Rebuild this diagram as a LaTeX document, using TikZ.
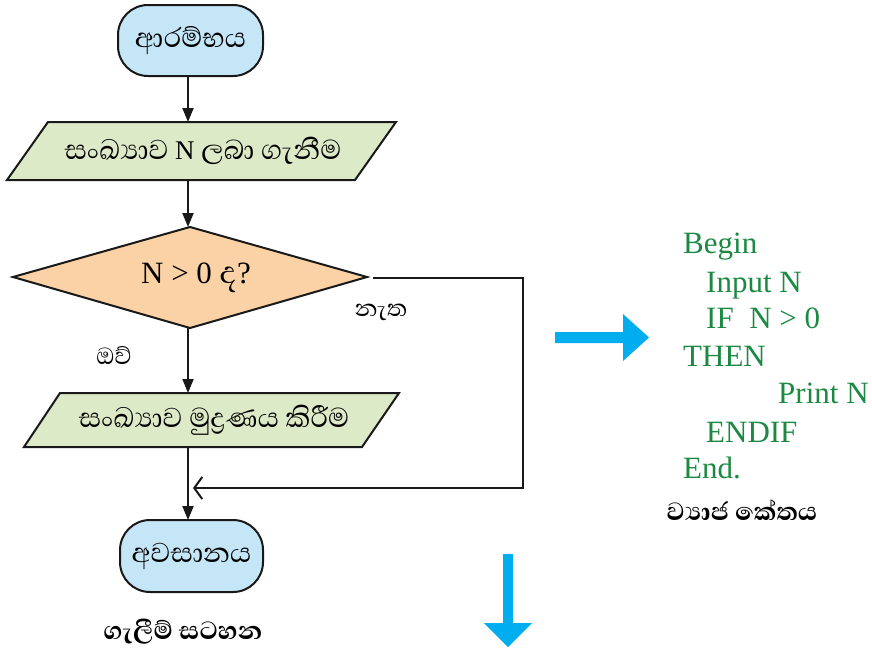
\documentclass[tikz,border=0pt]{standalone}
\usepackage{fontspec}
\setmainfont{Liberation Serif}
\newfontfamily\sinhala[Script=Sinhala]{Abhaya Libre}
\newfontfamily\sinhalab[Script=Sinhala]{Abhaya Libre Bold}
\usetikzlibrary{arrows.meta}
\definecolor{termblue}{RGB}{196,230,247}
\definecolor{paragreen}{RGB}{221,234,200}
\definecolor{decorange}{RGB}{251,210,165}
\definecolor{codegreen}{RGB}{28,137,66}
\definecolor{bigblue}{RGB}{0,174,239}
\newcommand{\sinbox}{\fontsize{35}{40}\sinhala}
\begin{document}
\begin{tikzpicture}[x=1pt,y=-1pt,
  term/.style={draw=black!90,line width=2pt,fill=termblue,rounded corners=30pt,
    minimum width=145pt,minimum height=71pt,inner sep=0pt,outer sep=0pt},
  shapebox/.style={draw=black!90,line width=2pt,line join=miter},
  anch/.style={inner sep=0pt,outer sep=0pt},
  arr/.style={draw=black!90,line width=2pt,-{Triangle[length=14pt,width=11pt]}},
  fb/.style={draw=black!90,line width=2pt,-{Straight Barb[length=8pt,width=22pt,line width=2pt]}},
  code/.style={anchor=base west,inner sep=0pt,text=codegreen,font=\fontsize{31}{36}\selectfont},
  lbl/.style={inner sep=0pt,font=\fontsize{30}{34}\sinhala},
  captxt/.style={inner sep=0pt,font=\fontsize{32}{36}\sinhalab},
  bluearrow/.style={fill=bigblue,draw=none}
]
\useasboundingbox (0,0) rectangle (872,651);
\coordinate (spine) at (188,0);

% start terminal
\node[term] (start) at (190.5,40.5) {\sinbox ආරම්භය};

% input parallelogram
\path[shapebox,fill=paragreen] (48,122) -- (396,122) -- (355,180) -- (7,180) -- cycle;
\node[anch,minimum width=300pt,minimum height=58pt] (input) at (203,151)
  {\fontsize{27}{32}\selectfont{\sinbox සංඛ්^^^^200dයාව} N {\sinbox ලබා ගැනීම}};

% decision diamond
\path[shapebox,fill=decorange] (13,277) -- (190,227) -- (367,277) -- (190,328) -- cycle;
\node[anch,minimum width=354pt,minimum height=101pt] (dec) at (196,277.5)
  {\fontsize{31}{36}\selectfont N > 0 {\fontsize{40}{44}\sinhala ද}?};

% output parallelogram
\path[shapebox,fill=paragreen] (60,393) -- (399,393) -- (362,447) -- (24,447) -- cycle;
\node[anch,minimum width=300pt,minimum height=54pt] (output) at (214,420)
  {\sinbox සංඛ්^^^^200dයාව මුද්^^^^200dරණය කිරීම};

% end terminal
\node[term,minimum width=143pt,minimum height=72pt] (end) at (191.5,556) {\sinbox අවසානය};

% connectors
\draw[arr] (start.south -| spine) -- (input.north -| spine);
\draw[arr] (input.south -| spine) -- (dec.north -| spine);
\draw[arr] (dec.south -| spine) -- (output.north -| spine);
\draw[arr] (output.south -| spine) -- (end.north -| spine);
\coordinate (c1) at (523,277.5);
\coordinate (c2) at (523,488);
\draw[fb,shorten >=5pt,line join=miter] (dec.east) -- (c1) -- (c2) -- (c2 -| spine);

% branch labels
\node[lbl] (no) at (381,312) {නැත};
\node[lbl] (yes) at (114,355) {ඔව්};

% caption flowchart
\node[captxt] (fccap) at (183,632) {ගැලීම් සටහන};

% blue arrows
\path[bluearrow] (555,332) -- (623,332) -- (623,314) -- (649,337.5) -- (623,361) -- (623,343) -- (555,343) -- cycle;
\path[bluearrow] (503,554) -- (513,554) -- (513,623) -- (532,623) -- (508,647) -- (484,623) -- (503,623) -- cycle;

% pseudocode
\node[code] (l1) at (683,253) {Begin};
\node[code] (l2) at (706,292) {Input N};
\node[code] (l3) at (706,328) {IF\ \ N > 0};
\node[code] (l4) at (683,366) {THEN};
\node[code] (l5) at (778,403) {Print N};
\node[code] (l6) at (706,442) {ENDIF};
\node[code] (l7) at (683,478) {End.};
\node[captxt] (pccap) at (742,510) {ව්^^^^200dයාජ කේතය};
\end{tikzpicture}
\end{document}
